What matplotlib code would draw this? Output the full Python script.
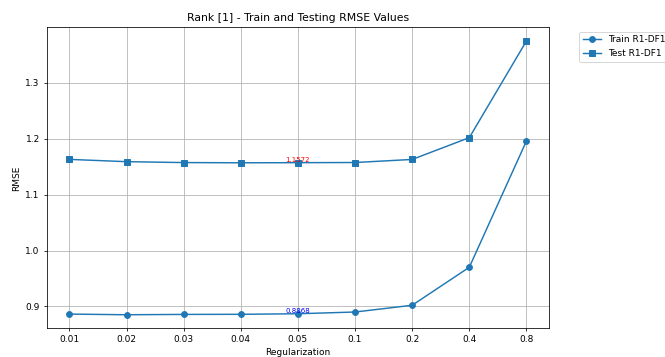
import matplotlib

matplotlib.use("Agg")
from matplotlib import pyplot as plt

reg_labels = ["0.01", "0.02", "0.03", "0.04", "0.05", "0.1", "0.2", "0.4", "0.8"]
train_rmse = [0.8862, 0.8850, 0.8856, 0.8858, 0.8868, 0.8899, 0.9020, 0.9700, 1.1960]
test_rmse = [1.1631, 1.1590, 1.1574, 1.1570, 1.1572, 1.1575, 1.1630, 1.2020, 1.3750]
best_idx = 4

plt.rcParams["font.size"] = 9.3

fig, ax = plt.subplots(figsize=(9.5, 5.1), dpi=70)
fig.subplots_adjust(left=0.070, right=0.826, bottom=0.080, top=0.9235)

x = list(range(len(reg_labels)))
ax.plot(x, train_rmse, marker="o", color="C0", label="Train R1-DF1")
ax.plot(x, test_rmse, marker="s", color="C0", label="Test R1-DF1")

ax.text(best_idx, test_rmse[best_idx], f"{test_rmse[best_idx]:.4f}",
        color="red", fontsize=7.2, ha="center", va="bottom")
ax.text(best_idx, train_rmse[best_idx], f"{train_rmse[best_idx]:.4f}",
        color="blue", fontsize=7.2, ha="center", va="bottom")

ax.set_xticks(x)
ax.set_xticklabels(reg_labels)
ax.set_xlabel("Regularization")
ax.set_ylabel("RMSE")
ax.set_title("Rank [1] - Train and Testing RMSE Values")
ax.grid(True)
ax.legend(bbox_to_anchor=(1.05, 1), loc="upper left")

fig.savefig("out.png", dpi=70)
